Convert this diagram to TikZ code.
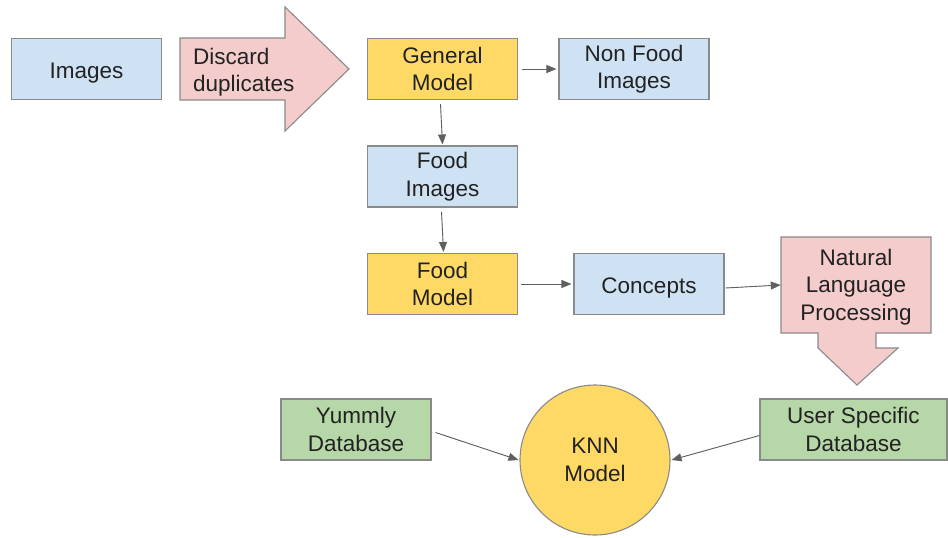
\documentclass[tikz,border=0pt]{standalone}
\usepackage{fontspec}
\setmainfont{Liberation Sans}
\usetikzlibrary{arrows.meta}
\definecolor{bluef}{HTML}{CFE2F3}
\definecolor{pinkf}{HTML}{F4CCCC}
\definecolor{yellf}{HTML}{FFD966}
\definecolor{greenf}{HTML}{B6D7A8}
\definecolor{bord}{HTML}{8A8A8A}
\definecolor{txt}{HTML}{222222}
\definecolor{arrc}{HTML}{5F5F5F}
\tikzset{
  box/.style={draw=bord, line width=1.1pt, rectangle, minimum width=150pt, minimum height=61pt,
    inner sep=0pt, align=center, text=txt, font=\fontsize{22.5}{27.5}\selectfont},
  bluebox/.style={box, fill=bluef},
  yellbox/.style={box, fill=yellf},
  greenbox/.style={box, fill=greenf},
  oneline/.style={text height=19pt, text depth=0pt},
  label/.style={inner sep=0pt, text=txt, font=\fontsize{22.5}{27.5}\selectfont},
  arr/.style={draw=arrc, line width=0.9pt, -{Triangle[length=10pt,width=8pt]}, fill=arrc},
}
\begin{document}
\begin{tikzpicture}[x=1pt,y=-1pt]
\useasboundingbox (0,0) rectangle (948,538);
% block arrows
\draw[draw=bord, line width=1.1pt, fill=pinkf] (180,38) -- (285,38) -- (285,7) -- (349,69) -- (285,131) -- (285,100) -- (180,100) -- cycle;
\node[label, align=left, anchor=west] (disc) at (193,72) {Discard\\duplicates};
\draw[draw=bord, line width=1.1pt, fill=pinkf] (781,237) -- (931,237) -- (931,333) -- (876,333) -- (876,348) -- (898,348) -- (857,385) -- (818,348) -- (818,333) -- (781,333) -- cycle;
\node[label, align=center, minimum width=150pt, minimum height=96pt] (nlp) at (856,287) {Natural\\Language\\Processing};
% boxes
\node[bluebox, oneline] (img) at (86.5,69) {Images};
\node[yellbox] (gm) at (442.5,69) {General\\Model};
\node[bluebox] (nfi) at (634,69) {Non Food\\Images};
\node[bluebox] (fi) at (442.5,176.5) {Food\\Images};
\node[yellbox] (fm) at (442.5,284) {Food\\Model};
\node[bluebox, oneline] (con) at (649,284) {Concepts};
\node[greenbox] (ym) at (356,429.5) {Yummly\\Database};
\node[greenbox, minimum width=187pt] (usd) at (853.5,429.5) {User Specific\\Database};
\node[draw=bord, line width=1.1pt, fill=yellf, circle, minimum size=150pt, inner sep=0pt, align=center, text=txt, font=\fontsize{22.5}{27.5}\selectfont] (knn) at (595,460) {KNN\\Model};
% connectors
\draw[arr] ([xshift=4pt]gm.east) -- ([xshift=-2pt]nfi.west);
\draw[arr] ([xshift=-2pt,yshift=-4pt]gm.south) -- ([xshift=0pt,yshift=1pt]fi.north);
\draw[arr] ([xshift=-1pt,yshift=-4pt]fi.south) -- ([xshift=1pt,yshift=1pt]fm.north);
\draw[arr] ([xshift=3pt]fm.east) -- ([xshift=-2pt]con.west);
\draw[arr] ([xshift=1pt,yshift=-4pt]con.east) -- ([yshift=2pt]nlp.west);
\draw[arr] ([xshift=4pt,yshift=-3pt]ym.east) -- ([xshift=-1pt]knn.west);
\draw[arr] ([yshift=-6pt]usd.west) -- ([xshift=1pt]knn.east);
\end{tikzpicture}
\end{document}
